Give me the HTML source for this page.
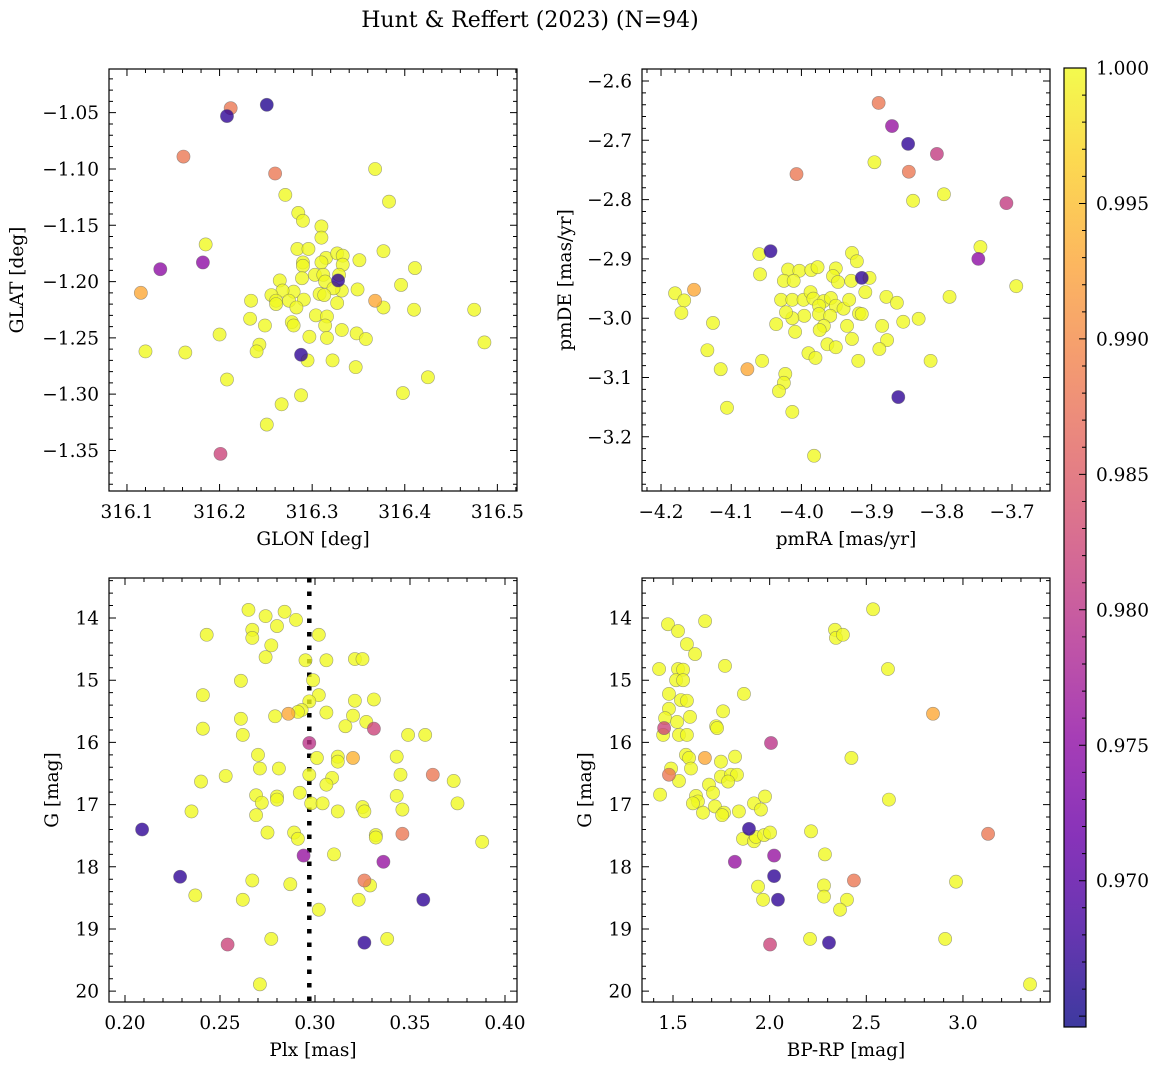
<!DOCTYPE html>
<html><head><meta charset="utf-8">
<style>
html,body{margin:0;padding:0;background:#fff;}
svg{display:block;font-family:"DejaVu Serif","Liberation Serif",serif;}
</style></head>
<body>
<svg id="fig" width="1161" height="1068" viewBox="0 0 1161 1068" xmlns="http://www.w3.org/2000/svg">
<text x="530" y="27" font-size="22" text-anchor="middle">Hunt &amp; Reffert (2023) (N=94)</text>
</svg>
<script>
// ---- data: [x, y, membership probability] ----
const skyPoints = [
[316.212,-1.046,0.988],[316.208,-1.053,0.967],[316.251,-1.043,0.966],[316.161,-1.089,0.988],[316.260,-1.104,0.988],
[316.136,-1.189,0.975],[316.182,-1.183,0.975],[316.115,-1.210,0.993],[316.201,-1.353,0.982],[316.288,-1.265,0.967],
[316.328,-1.199,0.967],
[316.368,-1.100,1],[316.383,-1.129,1],[316.271,-1.123,1],[316.285,-1.139,1],[316.290,-1.146,1],[316.310,-1.151,1],
[316.310,-1.161,1],[316.185,-1.167,1],[316.284,-1.171,1],[316.296,-1.171,1],[316.377,-1.173,1],[316.351,-1.181,1],
[316.411,-1.188,1],[316.290,-1.183,1],[316.290,-1.186,1],[316.315,-1.179,1],[316.327,-1.175,1],[316.333,-1.177,1],
[316.333,-1.185,1],[316.310,-1.183,1],[316.303,-1.194,1],[316.312,-1.194,1],[316.329,-1.194,1],[316.289,-1.197,1],
[316.265,-1.199,1],[316.314,-1.200,1],[316.396,-1.203,1],[316.349,-1.207,1],[316.332,-1.208,1],[316.323,-1.206,1],
[316.308,-1.211,1],[316.313,-1.212,1],[316.280,-1.209,1],[316.268,-1.208,1],[316.256,-1.212,1],[316.234,-1.217,1],
[316.261,-1.217,1],[316.275,-1.217,1],[316.291,-1.216,1],[316.261,-1.220,1],[316.283,-1.223,1],[316.327,-1.219,1],
[316.377,-1.223,1],[316.410,-1.225,1],[316.475,-1.225,1],[316.233,-1.233,1],[316.249,-1.239,1],[316.278,-1.236,1],
[316.280,-1.239,1],[316.304,-1.230,1],[316.316,-1.231,1],[316.314,-1.239,1],[316.332,-1.243,1],[316.348,-1.246,1],
[316.358,-1.251,1],[316.297,-1.249,1],[316.316,-1.250,1],[316.200,-1.247,1],[316.243,-1.256,1],[316.240,-1.262,1],
[316.120,-1.262,1],[316.163,-1.263,1],[316.295,-1.270,1],[316.322,-1.270,1],[316.347,-1.276,1],[316.486,-1.254,1],
[316.208,-1.287,1],[316.425,-1.285,1],[316.398,-1.299,1],[316.288,-1.301,1],[316.267,-1.309,1],[316.251,-1.327,1],
[316.368,-1.217,0.993]
];
const pmPoints = [
[-3.890,-2.637,0.988],[-3.871,-2.676,0.976],[-3.848,-2.706,0.967],[-3.807,-2.723,0.981],[-3.847,-2.753,0.988],
[-4.007,-2.757,0.988],[-3.708,-2.806,0.981],[-4.044,-2.887,0.967],[-3.914,-2.932,0.967],
[-4.153,-2.952,0.993],[-4.077,-3.086,0.993],[-3.862,-3.133,0.967],
[-3.896,-2.737,1],[-3.797,-2.791,1],[-3.841,-2.802,1],[-3.745,-2.880,1],[-3.694,-2.946,1],[-3.789,-2.964,1],
[-4.060,-2.892,1],[-4.059,-2.926,1],[-3.928,-2.890,1],[-3.921,-2.904,1],[-4.019,-2.918,1],[-4.003,-2.920,1],
[-3.986,-2.919,1],[-3.977,-2.914,1],[-3.951,-2.916,1],[-4.025,-2.937,1],[-4.011,-2.937,1],[-3.955,-2.929,1],
[-3.948,-2.939,1],[-3.929,-2.937,1],[-3.903,-2.932,1],[-3.909,-2.956,1],[-4.180,-2.958,1],[-4.167,-2.970,1],
[-4.171,-2.991,1],[-4.029,-2.969,1],[-4.013,-2.969,1],[-3.997,-2.969,1],[-3.987,-2.956,1],[-3.983,-2.967,1],
[-3.968,-2.971,1],[-3.958,-2.966,1],[-3.975,-2.979,1],[-3.951,-2.979,1],[-3.940,-2.984,1],[-3.932,-2.969,1],
[-3.996,-2.996,1],[-4.013,-3.000,1],[-4.022,-2.990,1],[-3.975,-2.993,1],[-3.959,-2.996,1],[-3.918,-2.992,1],
[-3.914,-2.993,1],[-3.879,-2.964,1],[-3.864,-2.974,1],[-4.036,-3.010,1],[-4.126,-3.008,1],[-4.009,-3.023,1],
[-3.935,-3.013,1],[-3.968,-3.013,1],[-3.974,-3.020,1],[-3.885,-3.013,1],[-3.855,-3.006,1],[-3.833,-3.001,1],
[-3.928,-3.035,1],[-3.878,-3.037,1],[-3.963,-3.044,1],[-3.951,-3.049,1],[-3.889,-3.052,1],[-3.990,-3.059,1],
[-3.980,-3.067,1],[-4.134,-3.054,1],[-3.919,-3.072,1],[-3.816,-3.072,1],[-4.056,-3.072,1],[-4.115,-3.086,1],
[-4.023,-3.094,1],[-4.025,-3.109,1],[-4.032,-3.123,1],[-4.106,-3.151,1],[-4.013,-3.158,1],[-3.982,-3.232,1],
[-3.748,-2.900,0.975]
];
const plxPoints = [
[0.209,17.40,0.967],[0.229,18.16,0.967],[0.254,19.25,0.982],[0.286,15.54,0.993],[0.297,16.01,0.980],[0.294,17.82,0.976],
[0.331,15.78,0.982],[0.320,16.25,0.994],[0.362,16.52,0.988],[0.346,17.47,0.988],[0.336,17.92,0.976],[0.326,18.22,0.988],
[0.357,18.53,0.967],[0.326,19.22,0.967],
[0.265,13.87,1],[0.267,14.19,1],[0.267,14.32,1],[0.274,13.97,1],[0.284,13.90,1],[0.280,14.13,1],[0.290,14.03,1],
[0.243,14.27,1],[0.302,14.27,1],[0.277,14.44,1],[0.274,14.63,1],[0.295,14.68,1],[0.306,14.68,1],[0.321,14.66,1],
[0.325,14.66,1],[0.299,15.00,1],[0.261,15.01,1],[0.241,15.24,1],[0.302,15.24,1],[0.297,15.34,1],[0.293,15.48,1],
[0.291,15.51,1],[0.279,15.58,1],[0.306,15.52,1],[0.321,15.33,1],[0.331,15.31,1],[0.261,15.62,1],[0.320,15.57,1],
[0.327,15.67,1],[0.316,15.74,1],[0.241,15.78,1],[0.262,15.88,1],[0.349,15.88,1],[0.358,15.88,1],[0.270,16.20,1],
[0.301,16.25,1],[0.312,16.23,1],[0.312,16.31,1],[0.343,16.23,1],[0.271,16.42,1],[0.281,16.42,1],[0.253,16.54,1],
[0.297,16.52,1],[0.309,16.57,1],[0.345,16.52,1],[0.240,16.63,1],[0.306,16.68,1],[0.373,16.62,1],[0.269,16.85,1],
[0.272,16.97,1],[0.280,16.87,1],[0.280,16.92,1],[0.292,16.81,1],[0.298,16.98,1],[0.304,16.98,1],[0.343,16.86,1],
[0.375,16.98,1],[0.235,17.11,1],[0.312,17.11,1],[0.325,17.04,1],[0.326,17.11,1],[0.346,17.08,1],[0.269,17.17,1],
[0.275,17.45,1],[0.289,17.45,1],[0.291,17.55,1],[0.332,17.49,1],[0.332,17.53,1],[0.388,17.60,1],[0.310,17.80,1],
[0.267,18.22,1],[0.287,18.28,1],[0.329,18.30,1],[0.237,18.46,1],[0.262,18.53,1],[0.323,18.53,1],[0.302,18.69,1],
[0.277,19.16,1],[0.338,19.16,1],[0.271,19.89,1]
];
const cmdPoints = [
[1.454,15.77,0.982],[1.479,16.52,0.988],[1.665,16.25,0.993],[2.007,16.01,0.980],[1.893,17.39,0.967],[1.820,17.92,0.976],
[2.023,17.82,0.976],[2.023,18.15,0.967],[2.043,18.53,0.967],[2.002,19.25,0.982],[2.307,19.22,0.967],[2.436,18.22,0.988],
[2.845,15.54,0.993],[3.130,17.47,0.988],
[2.535,13.86,1],[1.474,14.10,1],[1.526,14.21,1],[1.666,14.05,1],[1.572,14.42,1],[1.614,14.58,1],[2.338,14.19,1],
[2.343,14.32,1],[2.379,14.27,1],[1.428,14.82,1],[1.526,14.82,1],[1.552,14.83,1],[1.769,14.77,1],[2.612,14.82,1],
[1.516,15.00,1],[1.552,15.00,1],[1.479,15.22,1],[1.867,15.22,1],[1.541,15.32,1],[1.572,15.33,1],[1.479,15.46,1],
[1.759,15.50,1],[1.459,15.61,1],[1.521,15.67,1],[1.588,15.59,1],[1.723,15.74,1],[1.728,15.77,1],[1.449,15.88,1],
[1.531,15.88,1],[1.572,15.88,1],[1.567,16.20,1],[1.583,16.25,1],[1.593,16.42,1],[1.748,16.31,1],[1.821,16.23,1],
[2.423,16.25,1],[1.490,16.42,1],[1.531,16.62,1],[1.433,16.84,1],[1.686,16.68,1],[1.707,16.81,1],[1.748,16.55,1],
[1.800,16.52,1],[1.831,16.52,1],[1.785,16.63,1],[1.619,16.86,1],[1.629,16.95,1],[1.603,16.98,1],[1.717,17.03,1],
[1.764,17.13,1],[1.754,17.17,1],[1.655,17.13,1],[1.841,17.11,1],[1.919,16.98,1],[1.955,17.08,1],[1.976,16.87,1],
[2.617,16.92,1],[1.862,17.55,1],[1.919,17.59,1],[1.929,17.52,1],[1.971,17.49,1],[2.002,17.45,1],[2.214,17.43,1],
[2.286,17.80,1],[1.940,18.32,1],[1.966,18.53,1],[2.281,18.30,1],[2.281,18.48,1],[2.400,18.53,1],[2.364,18.69,1],
[2.964,18.24,1],[2.209,19.16,1],[2.908,19.16,1],[3.347,19.89,1]
];
const skyXTicks = [316.1,316.2,316.3,316.4,316.5];
const skyYTicks = [-1.05,-1.10,-1.15,-1.20,-1.25,-1.30,-1.35];
const pmXTicks = [-4.2,-4.1,-4.0,-3.9,-3.8,-3.7];
const pmYTicks = [-2.6,-2.7,-2.8,-2.9,-3.0,-3.1,-3.2];
const plxXTicks = [0.20,0.25,0.30,0.35,0.40];
const magTicks = [14,15,16,17,18,19,20];
const cmdXTicks = [1.5,2.0,2.5,3.0];
const cbTicks = [1.000,0.995,0.990,0.985,0.980,0.975,0.970];
const plxMean = 0.297;
const probMin = 0.9646, probMax = 1.0;

const NS = "http://www.w3.org/2000/svg";
const svg = document.getElementById('fig');
const TFS = 18.5, LFS = 18.5;
function mk(tag, attrs, parent){const e=document.createElementNS(NS,tag);for(const k in attrs)e.setAttribute(k,attrs[k]);(parent||svg).appendChild(e);return e;}
const stops=[[13,8,135],[65,4,157],[106,0,168],[143,13,164],[177,42,144],[204,71,120],[225,100,98],[242,132,75],[252,166,54],[252,206,37],[240,249,33]];
function plasma(t){t=Math.max(0,Math.min(1,t));const s=t*10,i=Math.min(9,Math.floor(s)),f=s-i;const a=stops[i],b=stops[i+1];
return 'rgb('+a.map((v,k)=>Math.round(v+(b[k]-v)*f)).join(',')+')';}
function fmt(v,d){return (v<0?'\u2212':'')+Math.abs(v).toFixed(d);}

function panel(o){
  const g=mk('g',{});
  
  
  const X=v=>o.x0+(v-o.xmin)/(o.xmax-o.xmin)*(o.x1-o.x0);
  const Y=o.invert? v=>o.y0+(v-o.ymin)/(o.ymax-o.ymin)*(o.y1-o.y0) : v=>o.y1-(v-o.ymin)/(o.ymax-o.ymin)*(o.y1-o.y0);
  const clip='c'+o.name;
  const cp=mk('clipPath',{id:clip},g);mk('rect',{x:o.x0,y:o.y0,width:o.x1-o.x0,height:o.y1-o.y0},cp);
  const pg=mk('g',{'clip-path':'url(#'+clip+')'},g);
  if(o.vline!==undefined){
    const l=mk('line',{x1:X(o.vline),x2:X(o.vline),y1:o.y0,y2:o.y1,stroke:'#000','stroke-width':4.5,'stroke-dasharray':'4.5 9'},pg);
    
    
  }
  const pts=o.data.slice().sort((a,b)=>b[2]-a[2]);
  pts.forEach(p=>{
    const c=mk('circle',{cx:X(p[0]),cy:Y(p[1]),r:6.6,fill:plasma((p[2]-probMin)/(probMax-probMin)),'fill-opacity':0.8,stroke:'#666','stroke-opacity':0.6,'stroke-width':0.6},pg);
    
    
  });
  mk('rect',{x:o.x0,y:o.y0,width:o.x1-o.x0,height:o.y1-o.y0,fill:'none',stroke:'#000','stroke-width':1.2},g);
  const tk=[];
  const addX=(v,len)=>{const x=X(v);if(x<o.x0-0.5||x>o.x1+0.5)return;tk.push('M'+x+' '+o.y1+'v-'+len+'M'+x+' '+o.y0+'v'+len);};
  const addY=(v,len)=>{const y=Y(v);if(y<o.y0-0.5||y>o.y1+0.5)return;tk.push('M'+o.x0+' '+y+'h'+len+'M'+o.x1+' '+y+'h-'+len);};
  const lo=Math.min(o.xmin,o.xmax),hi=Math.max(o.xmin,o.xmax);
  for(let k=Math.ceil(lo/o.xminor-1e-6);k*o.xminor<=hi+1e-9;k++)addX(k*o.xminor,4);
  const ylo=Math.min(o.ymin,o.ymax),yhi=Math.max(o.ymin,o.ymax);
  for(let k=Math.ceil(ylo/o.yminor-1e-6);k*o.yminor<=yhi+1e-9;k++)addY(k*o.yminor,4);
  o.xt.forEach(v=>addX(v,7));o.yt.forEach(v=>addY(v,7));
  mk('path',{d:tk.join(''),stroke:'#000','stroke-width':1,fill:'none'},g);
  o.xt.forEach(v=>{const t=mk('text',{x:X(v),y:o.y1+27,'font-size':TFS,'text-anchor':'middle'},g);t.textContent=fmt(v,o.xd);
    });
  o.yt.forEach(v=>{const t=mk('text',{x:o.x0-10,y:Y(v)+6.5,'font-size':TFS,'text-anchor':'end'},g);t.textContent=fmt(v,o.yd);
    });
  const xl=mk('text',{x:(o.x0+o.x1)/2,y:o.y1+54,'font-size':LFS,'text-anchor':'middle'},g);xl.textContent=o.xlabel;
  
  const yx=o.ylx,yy=(o.y0+o.y1)/2;
  const yl=mk('text',{x:yx,y:yy,'font-size':LFS,'text-anchor':'middle',transform:'rotate(-90 '+yx+' '+yy+')'},g);yl.textContent=o.ylabel;
  
}
panel({name:'sky-panel',data:skyPoints,x0:109,x1:517,y0:69,y1:491,xmin:316.0806,xmax:316.5212,ymin:-1.3860,ymax:-1.0112,
  xt:skyXTicks,yt:skyYTicks,xd:1,yd:2,xminor:0.02,yminor:0.01,xlabel:'GLON [deg]',ylabel:'GLAT [deg]',ylx:23});
panel({name:'proper-motion-panel',data:pmPoints,x0:642,x1:1050,y0:69,y1:491,xmin:-4.2271,xmax:-3.6459,ymin:-3.2914,ymax:-2.5798,
  xt:pmXTicks,yt:pmYTicks,xd:1,yd:1,xminor:0.02,yminor:0.02,xlabel:'pmRA [mas/yr]',ylabel:'pmDE [mas/yr]',ylx:571});
panel({name:'parallax-panel',data:plxPoints,x0:109,x1:517,y0:578,y1:1002,xmin:0.19158,xmax:0.40632,ymin:13.357,ymax:20.174,invert:true,
  xt:plxXTicks,yt:magTicks,xd:2,yd:0,xminor:0.01,yminor:0.2,xlabel:'Plx [mas]',ylabel:'G [mag]',ylx:58,vline:plxMean});
panel({name:'cmd-panel',data:cmdPoints,x0:642,x1:1050,y0:578,y1:1002,xmin:1.3396,xmax:3.4503,ymin:13.357,ymax:20.174,invert:true,
  xt:cmdXTicks,yt:magTicks,xd:1,yd:0,xminor:0.1,yminor:0.2,xlabel:'BP-RP [mag]',ylabel:'G [mag]',ylx:591});

(function(){
  const g=mk('g',{});
  
  
  const cx0=1064,cx1=1086,cy0=68,cy1=1027;
  const defs=mk('defs',{},g);
  const lg=mk('linearGradient',{id:'cbg',x1:0,y1:1,x2:0,y2:0},defs);
  for(let i=0;i<=20;i++)mk('stop',{offset:i/20,'stop-color':plasma(i/20)},lg);
  mk('rect',{x:cx0,y:cy0,width:cx1-cx0,height:cy1-cy0,fill:'url(#cbg)','fill-opacity':0.8},g);
  mk('rect',{x:cx0,y:cy0,width:cx1-cx0,height:cy1-cy0,fill:'none',stroke:'#000','stroke-width':1.2},g);
  const Y=v=>cy1-(v-probMin)/(probMax-probMin)*(cy1-cy0);
  const d=[];
  for(let k=965;k<=1000;k++){const y=Y(k/1000);if(y<cy0||y>cy1)continue;d.push('M'+cx1+' '+y+'h-'+(k%5===0?7:4));}
  mk('path',{d:d.join(''),stroke:'#000','stroke-width':1},g);
  cbTicks.forEach(v=>{const t=mk('text',{x:cx1+10,y:Y(v)+6.5,'font-size':TFS},g);t.textContent=v.toFixed(3);
    });
})();
</script>
</body></html>
